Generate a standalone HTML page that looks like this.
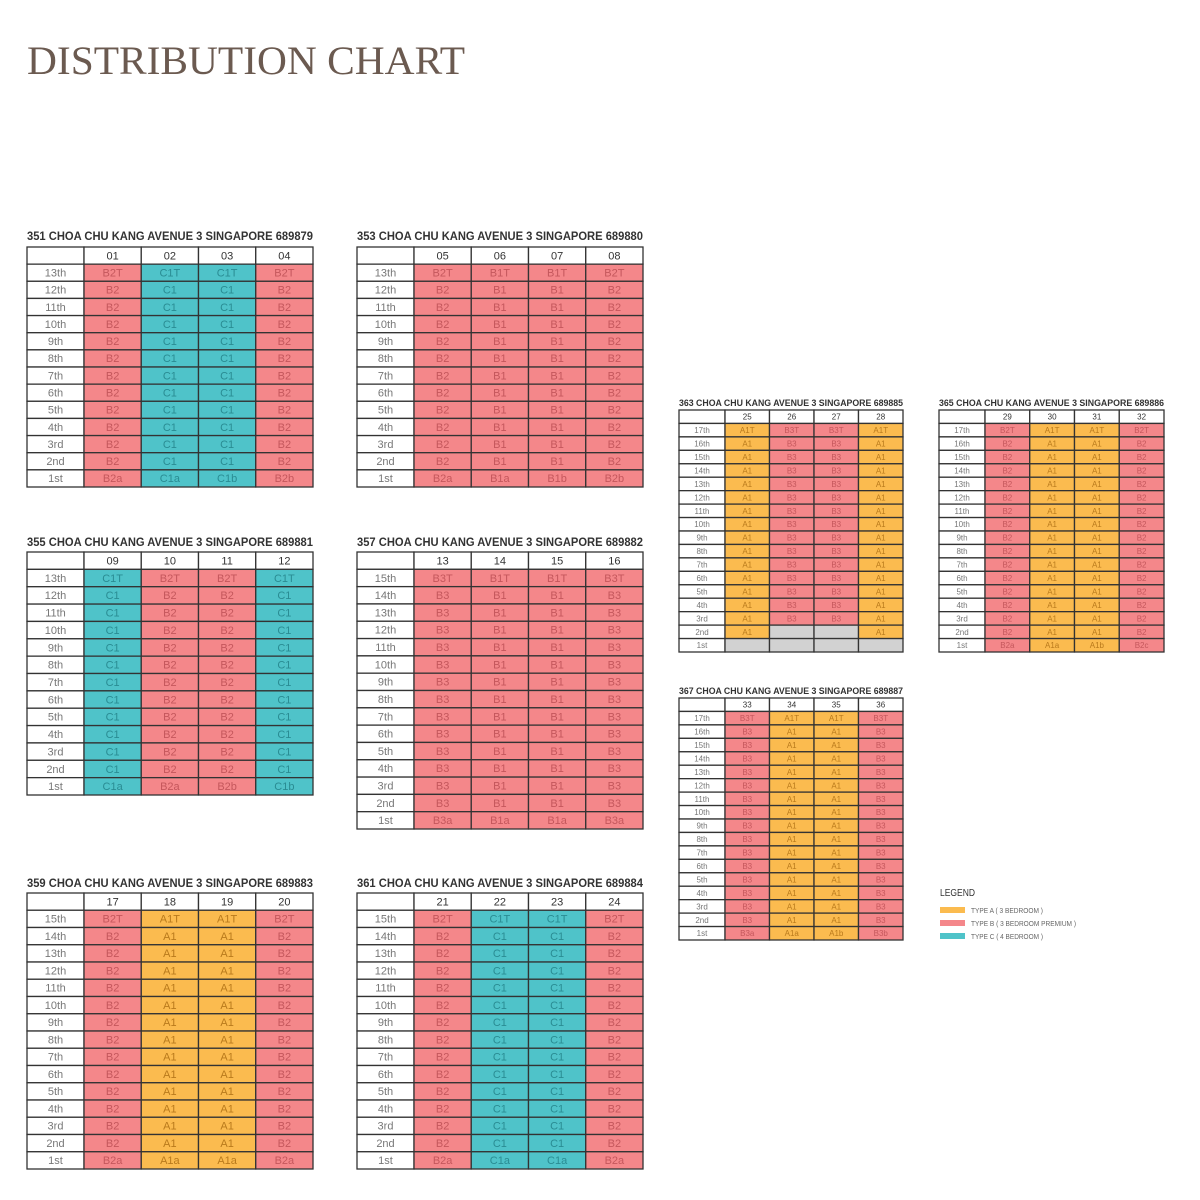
<!DOCTYPE html>
<html><head><meta charset="utf-8"><style>
body{margin:0;background:#fff}
svg{display:block}
</style></head><body>
<svg id="c" width="1200" height="1200" viewBox="0 0 1200 1200" xmlns="http://www.w3.org/2000/svg" font-family="Liberation Sans, sans-serif">
<text x="27" y="74" font-family="Liberation Serif, serif" font-size="40" fill="#6b5a50" textLength="438" lengthAdjust="spacingAndGlyphs">DISTRIBUTION CHART</text>
<g>
<text x="940" y="896" font-size="10" fill="#333" textLength="35" lengthAdjust="spacingAndGlyphs">LEGEND</text>
<rect x="940" y="907" width="25" height="6" fill="#fbbb4f"/>
<text x="971" y="913" font-size="7" fill="#666" textLength="72" lengthAdjust="spacingAndGlyphs">TYPE A ( 3 BEDROOM )</text>
<rect x="940" y="920" width="25" height="6" fill="#f4878a"/>
<text x="971" y="926" font-size="7" fill="#666" textLength="105" lengthAdjust="spacingAndGlyphs">TYPE B ( 3 BEDROOM PREMIUM )</text>
<rect x="940" y="933" width="25" height="6" fill="#4fc3c9"/>
<text x="971" y="939" font-size="7" fill="#666" textLength="72" lengthAdjust="spacingAndGlyphs">TYPE C ( 4 BEDROOM )</text>
</g>
</svg>
<script>
// block data
const blockTitles=["351 CHOA CHU KANG AVENUE 3 SINGAPORE 689879","353 CHOA CHU KANG AVENUE 3 SINGAPORE 689880","355 CHOA CHU KANG AVENUE 3 SINGAPORE 689881","357 CHOA CHU KANG AVENUE 3 SINGAPORE 689882","359 CHOA CHU KANG AVENUE 3 SINGAPORE 689883","361 CHOA CHU KANG AVENUE 3 SINGAPORE 689884","363 CHOA CHU KANG AVENUE 3 SINGAPORE 689885","365 CHOA CHU KANG AVENUE 3 SINGAPORE 689886","367 CHOA CHU KANG AVENUE 3 SINGAPORE 689887"];
const blockUnits=[["01","02","03","04"],["05","06","07","08"],["09","10","11","12"],["13","14","15","16"],["17","18","19","20"],["21","22","23","24"],["25","26","27","28"],["29","30","31","32"],["33","34","35","36"]];
const blockFloors=[13,13,13,15,15,15,17,17,17];
const blockTypes=[["B2","C1","C1","B2"],["B2","B1","B1","B2"],["C1","B2","B2","C1"],["B3","B1","B1","B3"],["B2","A1","A1","B2"],["B2","C1","C1","B2"],["A1","B3","B3","A1"],["B2","A1","A1","B2"],["B3","A1","A1","B3"]];
const blockFirst=[["B2a","C1a","C1b","B2b"],["B2a","B1a","B1b","B2b"],["C1a","B2a","B2b","C1b"],["B3a","B1a","B1a","B3a"],["B2a","A1a","A1a","B2a"],["B2a","C1a","C1a","B2a"],["","","",""],["B2a","A1a","A1b","B2c"],["B3a","A1a","A1b","B3b"]];
const blockSecond=[null,null,null,null,null,null,["A1","","","A1"],null,null];
// layout boxes: [x, titleY, tableTop, tableBottom, width, labelW, fontSize]
const boxes=[[27,236,247,487,286,57,11],[357,236,247,487,286,57,11],[27,542,552,795,286,57,11],[357,542,552,829,286,57,11],[27,883,893,1169,286,57,11],[357,883,893,1169,286,57,11],[679,402,410,652,224,46,8],[939,402,410,652,225,46,8],[679,690,698,940,224,46,8]];
const fill={A:"#fbbb4f",B:"#f4878a",C:"#4fc3c9","":"#d2d2d2"};
const tcol={A:"#b97a1c",B:"#c4575c",C:"#2a8c93","":"#999"};
function ord(n){const s=(n%100>=11&&n%100<=13)?"th":({1:"st",2:"nd",3:"rd"}[n%10]||"th");return n+s;}
const svg=document.getElementById('c');const NS="http://www.w3.org/2000/svg";
function mk(tag,attrs,parent){const e=document.createElementNS(NS,tag);for(const k in attrs)e.setAttribute(k,attrs[k]);parent.appendChild(e);return e;}
blockTitles.forEach((title,b)=>{
  const [x,ty,top,bot,w,lw,fs]=boxes[b];
  const g=mk('g',{},svg);
  
  
  const t=mk('text',{x:x,y:ty+4,'font-size':fs+1,fill:'#333','font-weight':'bold',textLength:w,lengthAdjust:'spacingAndGlyphs'},g);
  t.textContent=title;
  
  
  const nf=blockFloors[b];const rows=nf+1;const rh=(bot-top)/rows;const cw=(w-lw)/4;
  for(let r=0;r<rows;r++){
    const y=top+r*rh;
    // label cell
    const lab=r===0?"":ord(nf-r+1);
    const lr=mk('rect',{x:x,y:y,width:lw,height:rh,fill:'#fff',stroke:'#333','stroke-width':1.3},g);
    
    
    if(lab){const lt=mk('text',{x:x+lw/2,y:y+rh*0.72,'font-size':fs,'text-anchor':'middle',fill:'#777'},g);lt.textContent=lab;
      
      }
    for(let c=0;c<4;c++){
      const cx=x+lw+c*cw;
      let txt,f;
      if(r===0){txt=blockUnits[b][c];f=null;}
      else{const floor=nf-r+1;
        if(floor===1)txt=blockFirst[b][c];
        else if(floor===2&&blockSecond[b])txt=blockSecond[b][c];
        else txt=blockTypes[b][c]+(floor===nf?"T":"");
        f=txt?txt[0]:"";}
      const cr=mk('rect',{x:cx,y:y,width:cw,height:rh,fill:f===null?'#fff':fill[f],stroke:'#333','stroke-width':1.3},g);
      
      
      if(txt){const ct=mk('text',{x:cx+cw/2,y:y+rh*0.72,'font-size':fs,'text-anchor':'middle',fill:f===null?'#333':tcol[f]},g);ct.textContent=txt;
        
        }
    }
  }
});
</script>
</body></html>
